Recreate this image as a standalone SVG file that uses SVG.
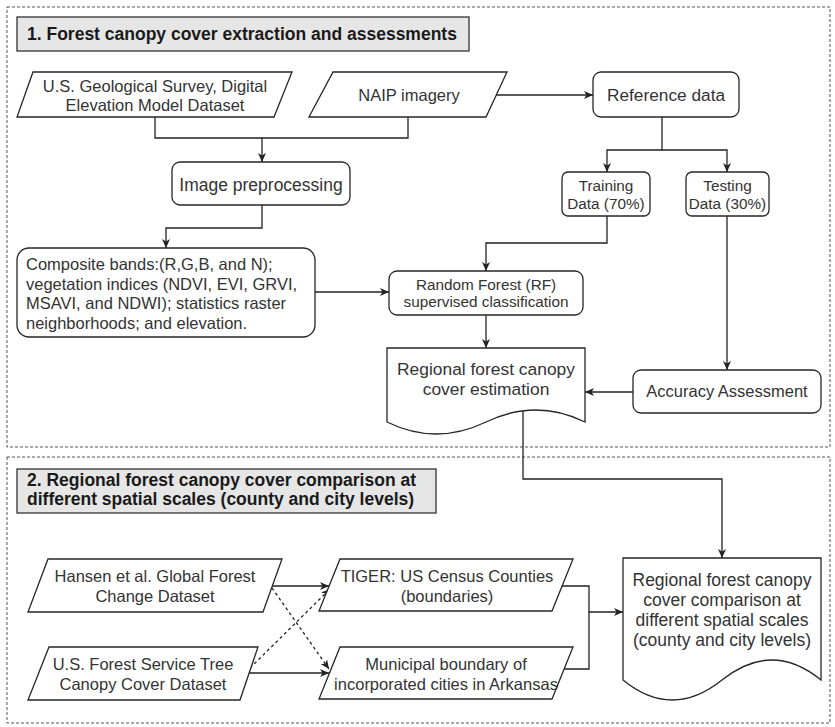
<svg xmlns="http://www.w3.org/2000/svg" width="835" height="727" viewBox="0 0 835 727">
<style>
.sec{fill:none;stroke:#555;stroke-width:1;stroke-dasharray:3,2}
.hdr{fill:#e6e6e6;stroke:#333;stroke-width:1.3}
.ht{font-family:"Liberation Sans",Arial,sans-serif;font-weight:bold;font-size:17.5px;fill:#1a1a1a}
.shape{fill:#fff;stroke:#262626;stroke-width:1.3}
.t{font-family:"Liberation Sans",Arial,sans-serif;font-size:16.5px;fill:#333;text-anchor:middle}
.tl{font-family:"Liberation Sans",Arial,sans-serif;font-size:16.5px;fill:#333}
.s15{font-size:15.3px}
.s17{font-size:17.3px}
.edge{fill:none;stroke:#222;stroke-width:1.3}
.dash{stroke-dasharray:3,3}
</style>
<defs>
<marker id="arr" viewBox="0 0 9 8" markerWidth="9" markerHeight="8" refX="9" refY="4" orient="auto" markerUnits="userSpaceOnUse">
<path d="M0,0 L9,4 L0,8 L2.5,4 Z" fill="#222"/>
</marker>
</defs>
<rect width="835" height="727" fill="#fff"/>

<g id="section1">
<rect class="sec" x="7" y="7" width="823" height="440"/>
<rect class="hdr" x="17" y="17" width="452" height="34"/>
<text class="ht" x="27" y="40">1. Forest canopy cover extraction and assessments</text>
</g>
<g id="section2">
<rect class="sec" x="7" y="457" width="823" height="266"/>
<rect class="hdr" x="17" y="469" width="419" height="44"/>
<text class="ht" x="27" y="486">2. Regional forest canopy cover comparison at</text>
<text class="ht" x="27" y="505">different spatial scales (county and city levels)</text>
</g>

<g id="connectors">
<path class="edge" d="M155,117 V138 H262 V162" marker-end="url(#arr)"/>
<path class="edge" d="M408,117 V138 H262"/>
<path class="edge" d="M496,95 H593" marker-end="url(#arr)"/>
<path class="edge" d="M262,205 V228 H166 V248" marker-end="url(#arr)"/>
<path class="edge" d="M662,117 V150 H607 V172" marker-end="url(#arr)"/>
<path class="edge" d="M662,150 H727 V172" marker-end="url(#arr)"/>
<path class="edge" d="M607,216 V243 H486 V271" marker-end="url(#arr)"/>
<path class="edge" d="M727,216 V370" marker-end="url(#arr)"/>
<path class="edge" d="M315,292 H389" marker-end="url(#arr)"/>
<path class="edge" d="M486,315 V348" marker-end="url(#arr)"/>
<path class="edge" d="M633,392 H585" marker-end="url(#arr)"/>
<path class="edge" d="M523,411 V479 H722 V558" marker-end="url(#arr)"/>
<path class="edge" d="M272,586 H329" marker-end="url(#arr)"/>
<path class="edge" d="M249,673 H329" marker-end="url(#arr)"/>
<path class="edge dash" d="M272,588 L329,669" marker-end="url(#arr)"/>
<path class="edge dash" d="M250,668 L330,589" marker-end="url(#arr)"/>
<path class="edge" d="M562,586 H589 V612 H623" marker-end="url(#arr)"/>
<path class="edge" d="M564,669 H589 V612"/>
</g>

<g id="usgs">
<polygon class="shape" points="33,72 292,72 274,117 17,117"/>
<text class="t" x="155" y="92">U.S. Geological Survey, Digital</text>
<text class="t" x="155" y="111">Elevation Model Dataset</text>
</g>
<g id="naip">
<polygon class="shape" points="333,72 507,72 486,117 309,117"/>
<text class="t" x="409" y="101">NAIP imagery</text>
</g>
<g id="reference">
<rect class="shape" x="593" y="72" width="146" height="45" rx="8"/>
<text class="t s17" x="666" y="101">Reference data</text>
</g>
<g id="preprocessing">
<rect class="shape" x="172" y="162" width="178" height="43" rx="8"/>
<text class="t" x="261" y="191" style="font-size:17.5px">Image preprocessing</text>
</g>
<g id="training">
<rect class="shape" x="562" y="172" width="88" height="44" rx="6"/>
<text class="t s15" x="606" y="191">Training</text>
<text class="t s15" x="606" y="209">Data (70%)</text>
</g>
<g id="testing">
<rect class="shape" x="686" y="172" width="83" height="44" rx="6"/>
<text class="t s15" x="727.5" y="191">Testing</text>
<text class="t s15" x="727.5" y="209">Data (30%)</text>
</g>
<g id="composite">
<rect class="shape" x="17" y="248" width="298" height="89" rx="12"/>
<text class="tl" x="26" y="270">Composite bands:(R,G,B, and N);</text>
<text class="tl" x="26" y="289.5">vegetation indices (NDVI, EVI, GRVI,</text>
<text class="tl" x="26" y="309">MSAVI, and NDWI); statistics raster</text>
<text class="tl" x="26" y="328.5">neighborhoods; and elevation.</text>
</g>
<g id="rf">
<rect class="shape" x="389" y="271" width="194" height="44" rx="8"/>
<text class="t s15" x="486" y="290">Random Forest (RF)</text>
<text class="t s15" x="486" y="307">supervised classification</text>
</g>
<g id="estimation">
<path class="shape" d="M387,348 H585 V422 Q536,398 486,422 Q436,446 387,422 Z"/>
<text class="t" x="486" y="375" style="font-size:17.4px">Regional forest canopy</text>
<text class="t" x="486" y="395" style="font-size:17.4px">cover estimation</text>
</g>
<g id="accuracy">
<rect class="shape" x="633" y="370" width="188" height="43" rx="8"/>
<text class="t" x="727" y="397">Accuracy Assessment</text>
</g>
<g id="hansen">
<polygon class="shape" points="48,559 282,559 263,612 28,612"/>
<text class="t" x="155" y="582">Hansen et al. Global Forest</text>
<text class="t" x="155" y="602">Change Dataset</text>
</g>
<g id="usfs">
<polygon class="shape" points="49,647 258,647 240,700 28,700"/>
<text class="t" x="143" y="670">U.S. Forest Service Tree</text>
<text class="t" x="143" y="690">Canopy Cover Dataset</text>
</g>
<g id="tiger">
<polygon class="shape" points="340,559 573,559 552,611 319,611"/>
<text class="t" x="447" y="582">TIGER: US Census Counties</text>
<text class="t" x="447" y="602">(boundaries)</text>
</g>
<g id="municipal">
<polygon class="shape" points="340,647 573,647 552,699 319,699"/>
<text class="t" x="446" y="670">Municipal boundary of</text>
<text class="t" x="446" y="690">incorporated cities in Arkansas</text>
</g>
<g id="comparison">
<path class="shape" d="M623,558 H821 V680 Q772,640 722,680 Q672,720 623,680 Z"/>
<text class="t" x="722" y="586" style="font-size:17.5px">Regional forest canopy</text>
<text class="t" x="722" y="606" style="font-size:17.5px">cover comparison at</text>
<text class="t" x="722" y="626" style="font-size:17.5px">different spatial scales</text>
<text class="t" x="722" y="646" style="font-size:17.5px">(county and city levels)</text>
</g>
</svg>
